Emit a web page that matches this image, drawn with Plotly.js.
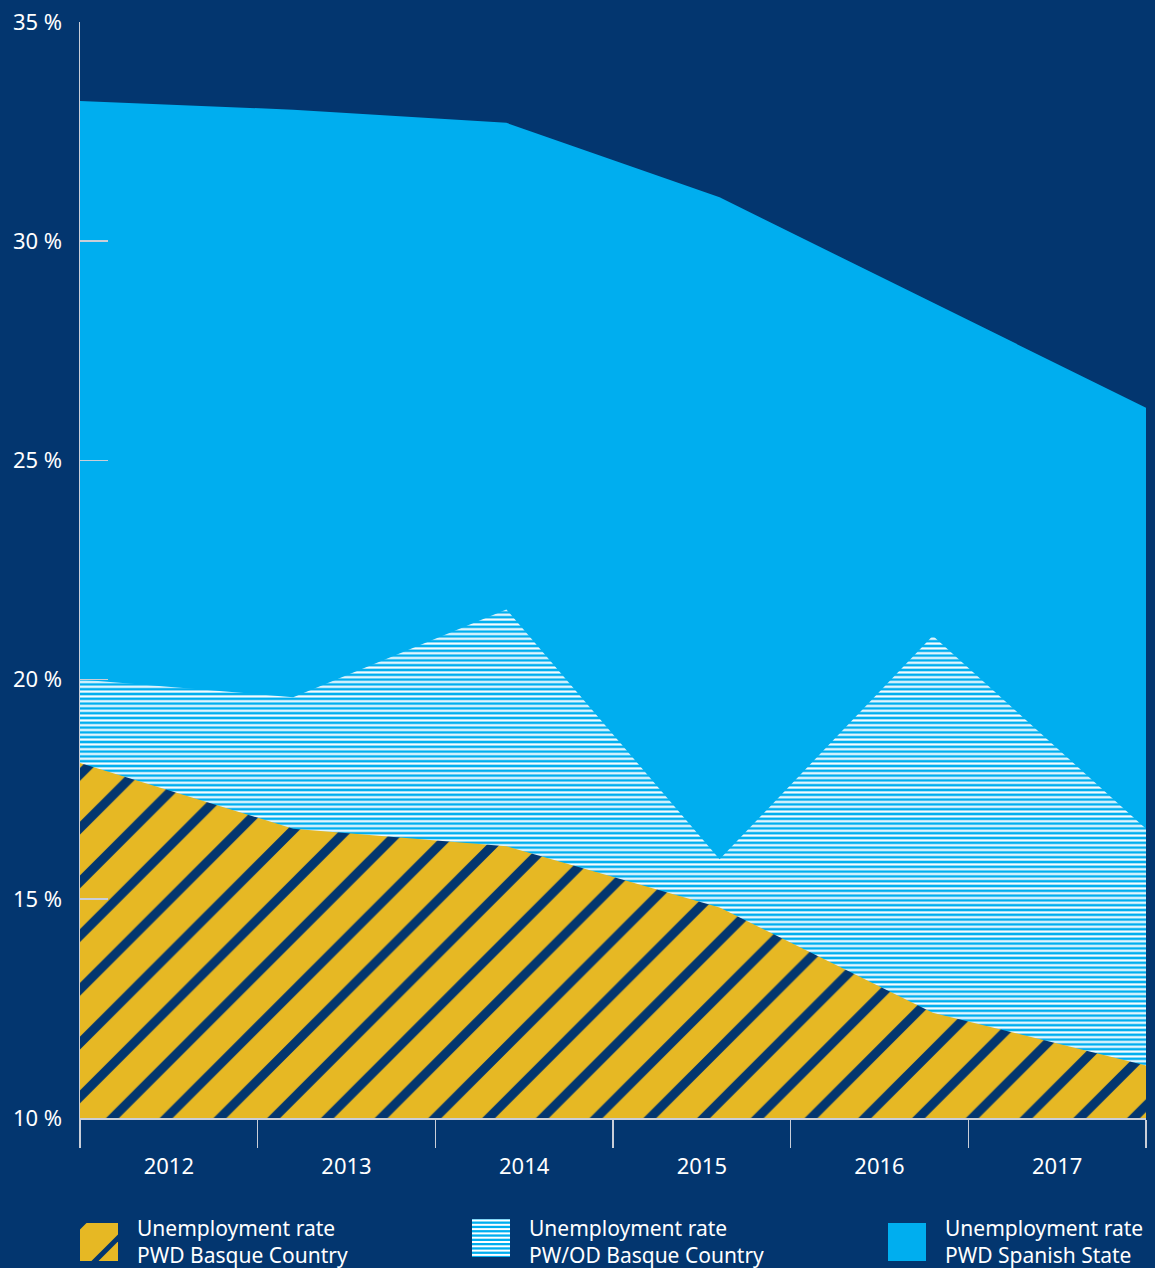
<!DOCTYPE html>
<html><head><meta charset="utf-8">
<script src="https://cdn.plot.ly/plotly-3.0.1.min.js"></script>
<style>html,body{margin:0;padding:0;background:#03366f;}#chart{width:1155px;height:1268px;}</style>
</head><body><div id="chart"></div>
<script>
// Data
const years = [2012, 2013, 2014, 2015, 2016, 2017];
const yearLabels = ['2012', '2013', '2014', '2015', '2016', '2017'];
const pwdSpanishState = [33.2, 33.0, 32.7, 31.0, 28.6, 26.2];
const pwodBasqueCountry = [20.0, 19.6, 21.6, 15.9, 21.0, 16.6];
const pwdBasqueCountry = [18.1, 16.6, 16.2, 14.8, 12.4, 11.2];
const seriesNames = ['Unemployment rate<br>PWD Basque Country', 'Unemployment rate<br>PW/OD Basque Country', 'Unemployment rate<br>PWD Spanish State'];
const yTicks = [10, 15, 20, 25, 30, 35];

const NAVY = '#03366f', BLUE = '#00aeef', YELLOW = '#e6b824', AXIS = '#c9ced8';
const FONT = 'Noto Sans, Open Sans, sans-serif';

const traces = [
  {x: years, y: pwdSpanishState, type: 'scatter', mode: 'none', fill: 'tozeroy', fillcolor: BLUE,
   name: seriesNames[2], hoverinfo: 'skip'},
  {x: years, y: pwodBasqueCountry, type: 'scatter', mode: 'none', fill: 'tozeroy', fillcolor: BLUE,
   fillpattern: {shape: '-', bgcolor: BLUE, fgcolor: '#ffffff', size: 4.8, solidity: 0.45},
   name: seriesNames[1], hoverinfo: 'skip'},
  {x: years, y: pwdBasqueCountry, type: 'scatter', mode: 'none', fill: 'tozeroy', fillcolor: YELLOW,
   fillpattern: {shape: '/', bgcolor: YELLOW, fgcolor: NAVY, size: 38, solidity: 0.24},
   name: seriesNames[0], hoverinfo: 'skip'},
  {x: yearLabels, y: yearLabels.map(() => null), xaxis: 'x2', type: 'scatter', mode: 'markers',
   showlegend: false, hoverinfo: 'skip'}
];

// legend key swatches (small SVG images) and legend texts (annotations)
function svgUri(inner) {
  const s = '<svg xmlns="http://www.w3.org/2000/svg" width="38" height="38" viewBox="0 0 38 38">' + inner + '</svg>';
  return 'data:image/svg+xml;charset=utf-8,' + encodeURIComponent(s);
}
const hatchKey = svgUri('<rect x="0" y="0" width="38" height="38" fill="' + YELLOW + '"/>' +
  '<g stroke="' + NAVY + '" stroke-width="5">' +
  '<line x1="-10" y1="13" x2="13" y2="-10"/><line x1="10" y1="43" x2="43" y2="10"/></g>');
let stripes = '<rect x="0" y="0" width="38" height="38" fill="' + BLUE + '"/>';
for (let k = 0; k < 9; k++) stripes += '<rect x="0" y="' + (0.5 + k * 4.3).toFixed(1) + '" width="38" height="2" fill="#ffffff"/>';
const stripeKey = svgUri(stripes);
const solidKey = svgUri('<rect x="0" y="0" width="38" height="38" fill="' + BLUE + '"/>');

const plotL = 80, plotR = 1146, plotT = 22, plotB = 1118;
const px2x = p => (p - plotL) / (plotR - plotL);
const px2y = p => (plotB - p) / (plotB - plotT);
const keyImg = (src, left, top) => ({source: src, xref: 'paper', yref: 'paper', x: px2x(left), y: px2y(top),
  sizex: 38 / (plotR - plotL), sizey: 38 / (plotB - plotT), xanchor: 'left', yanchor: 'top', sizing: 'stretch', layer: 'above'});
const keyText = (txt, left) => ({text: txt, xref: 'paper', yref: 'paper', x: px2x(left), y: px2y(1213),
  xanchor: 'left', yanchor: 'top', align: 'left', showarrow: false, borderpad: 0,
  font: {family: FONT, size: 21, color: '#ffffff'}});

const layout = {
  width: 1155, height: 1268,
  paper_bgcolor: NAVY, plot_bgcolor: NAVY,
  margin: {l: 80, r: 9, t: 22, b: 150, autoexpand: false},
  font: {family: FONT, size: 21, color: '#ffffff'},
  showlegend: false,
  xaxis: {range: [2012, 2017], visible: false, fixedrange: true},
  xaxis2: {overlaying: 'x', anchor: 'y', side: 'bottom', type: 'category', categoryorder: 'array',
    categoryarray: yearLabels, range: [-0.5, 5.5], tickson: 'boundaries', ticks: 'outside',
    ticklen: 28, tickwidth: 1.5, tickcolor: AXIS, showline: true, linecolor: AXIS, linewidth: 1.5,
    showgrid: false, zeroline: false, ticklabelstandoff: 28,
    tickfont: {family: FONT, size: 22, color: '#ffffff'}},
  yaxis: {range: [10, 35], tickmode: 'array', tickvals: yTicks, ticktext: yTicks.map(v => v + ' %'),
    ticks: 'inside', ticklen: 28, tickwidth: 1.5, tickcolor: AXIS, showline: true, linecolor: AXIS,
    linewidth: 1.5, showgrid: false, zeroline: false, layer: 'above traces', ticklabelstandoff: 12,
    tickfont: {family: FONT, size: 22, color: '#ffffff'}},
  images: [keyImg(hatchKey, 80, 1223), keyImg(stripeKey, 472, 1219), keyImg(solidKey, 888, 1223)],
  annotations: [keyText(seriesNames[0], 136), keyText(seriesNames[1], 528), keyText(seriesNames[2], 944)]
};

Plotly.newPlot('chart', traces, layout, {displayModeBar: false, staticPlot: true});
</script></body></html>
